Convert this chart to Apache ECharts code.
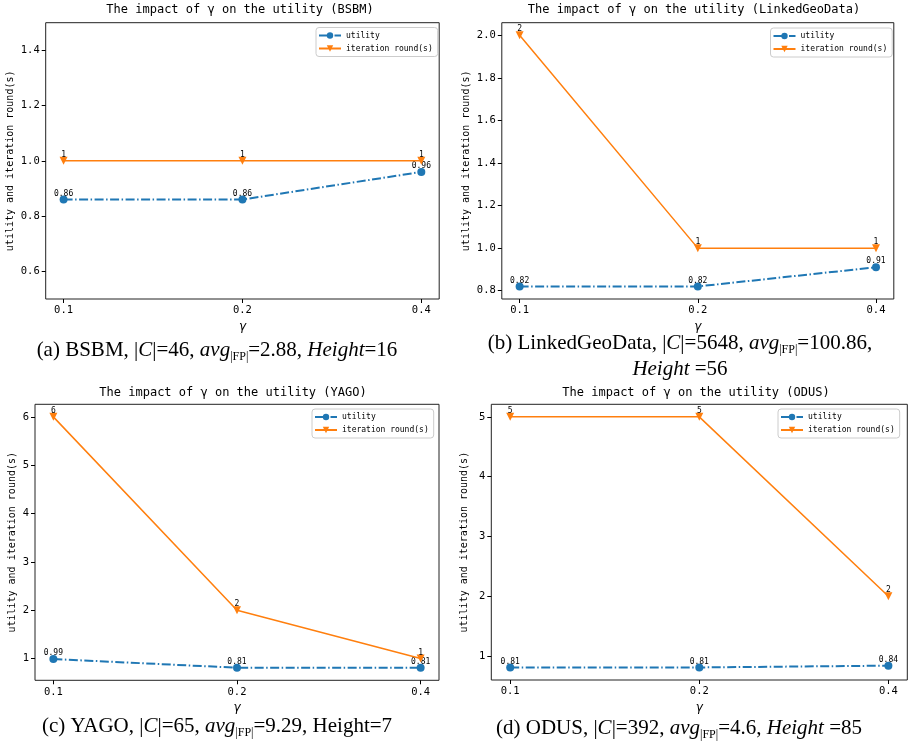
<!DOCTYPE html>
<html><head><meta charset="utf-8">
<script src="https://cdn.jsdelivr.net/npm/echarts@6/dist/echarts.min.js"></script>
<style>html,body{margin:0;padding:0;background:#fff}#c{width:908px;height:746px}</style>
</head><body><div id="c"></div><script>
// ---- data ----
const gammaLabels = ['0.1', '0.2', '0.4'];
const seriesNames = ['utility', 'iteration round(s)'];
const utilA = [0.86, 0.86, 0.96];
const iterA = [1, 1, 1];
const utilB = [0.82, 0.82, 0.91];
const iterB = [2, 1, 1];
const utilC = [0.99, 0.81, 0.81];
const iterC = [6, 2, 1];
const utilD = [0.81, 0.81, 0.84];
const iterD = [5, 5, 2];
const yTicksA = [0.6, 0.8, 1.0, 1.2, 1.4];
const yTicksB = [0.8, 1.0, 1.2, 1.4, 1.6, 1.8, 2.0];
const yTicksC = [1, 2, 3, 4, 5, 6];
const yTicksD = [1, 2, 3, 4, 5];
const titles = [
  'The impact of γ on the utility (BSBM)',
  'The impact of γ on the utility (LinkedGeoData)',
  'The impact of γ on the utility (YAGO)',
  'The impact of γ on the utility (ODUS)'
];
const yName = 'utility and iteration round(s)';
const xName = 'γ';

// ---- layout ----
const mono = 'DejaVu Sans Mono';
const panels = [
  {util: utilA, iter: iterA, ticks: yTicksA, dec: 1, min: 0.5, max: 1.5,
   grid: {left: 45.7, top: 22.7, width: 393.5, height: 276.3}, yGap: 30,
   legend: {left: 316, top: 27.5}, title: [240, 10]},
  {util: utilB, iter: iterB, ticks: yTicksB, dec: 1, min: 0.761, max: 2.059,
   grid: {left: 501.8, top: 22.7, width: 392, height: 276.3}, yGap: 30,
   legend: {left: 770.5, top: 28}, title: [694, 10]},
  {util: utilC, iter: iterC, ticks: yTicksC, dec: 0, min: 0.55, max: 6.26,
   grid: {left: 35, top: 404.3, width: 404, height: 276}, yGap: 18,
   legend: {left: 312, top: 409}, title: [233, 392.7]},
  {util: utilD, iter: iterD, ticks: yTicksD, dec: 0, min: 0.6, max: 5.21,
   grid: {left: 491.3, top: 404.3, width: 416, height: 275.7}, yGap: 22,
   legend: {left: 778, top: 409}, title: [696, 392.7]}
];

const grids = [], xAxes = [], yAxes = [], series = [], legends = [], graphics = [];
const xTicks = gammaLabels.map((_, k) => k);

panels.forEach((p, i) => {
  grids.push(Object.assign({show: true, borderColor: '#222', borderWidth: 1, backgroundColor: 'transparent'}, p.grid));
  xAxes.push({
    type: 'value', gridIndex: i, min: -0.1, max: 2.1, position: 'bottom',
    name: xName, nameLocation: 'middle', nameGap: 22,
    nameTextStyle: {fontSize: 12, fontStyle: 'italic', fontFamily: 'DejaVu Sans', color: '#000'},
    axisLine: {show: false, onZero: false}, splitLine: {show: false},
    axisTick: {show: true, length: 4, lineStyle: {color: '#000'}, customValues: xTicks},
    axisLabel: {customValues: xTicks, formatter: v => gammaLabels[Math.round(v)],
      fontSize: 10.5, fontFamily: mono, color: '#000', margin: 6}
  });
  yAxes.push({
    type: 'value', gridIndex: i, min: p.min, max: p.max, position: 'left',
    name: yName, nameLocation: 'middle', nameGap: p.yGap,
    nameTextStyle: {fontSize: 10, fontFamily: mono, color: '#000'},
    axisLine: {show: false, onZero: false}, splitLine: {show: false},
    axisTick: {show: true, length: 4, lineStyle: {color: '#000'}, customValues: p.ticks},
    axisLabel: {customValues: p.ticks, formatter: v => v.toFixed(p.dec),
      fontSize: 10.5, fontFamily: mono, color: '#000', margin: 6}
  });
  const lbl = {show: true, position: 'top', distance: -2, fontSize: 8, fontFamily: mono, color: '#000',
    formatter: q => String(q.value[1])};
  series.push({
    type: 'line', name: seriesNames[0], xAxisIndex: i, yAxisIndex: i,
    data: p.util.map((v, k) => [k, v]),
    symbol: 'circle', symbolSize: 8,
    itemStyle: {color: '#1f77b4'},
    lineStyle: {color: '#1f77b4', width: 2, type: [9, 2.5, 1.5, 2.5]},
    label: lbl, emphasis: {disabled: true}, z: 2
  });
  series.push({
    type: 'line', name: seriesNames[1], xAxisIndex: i, yAxisIndex: i,
    data: p.iter.map((v, k) => [k, v]),
    symbol: 'triangle', symbolRotate: 180, symbolSize: 8,
    itemStyle: {color: '#ff7f0e'},
    lineStyle: {color: '#ff7f0e', width: 1.5},
    label: lbl, emphasis: {disabled: true}, z: 3
  });
  legends.push({
    left: p.legend.left, top: p.legend.top, orient: 'vertical', data: seriesNames, selectedMode: false,
    itemWidth: 22, itemHeight: 8, itemGap: 5,
    textStyle: {fontSize: 8, fontFamily: mono, color: '#000'},
    backgroundColor: 'rgba(255,255,255,0.8)', borderColor: '#ccc', borderWidth: 1, borderRadius: 3,
    padding: [4, 5, 4, 2]
  });
  graphics.push({type: 'text', x: p.title[0], y: p.title[1],
    style: {text: titles[i], fontSize: 12, fontFamily: mono, fill: '#000', align: 'center', verticalAlign: 'middle'}});
});

const rich = {
  n: {fontFamily: 'Liberation Serif', fontSize: 21, lineHeight: 26, color: '#000'},
  i: {fontFamily: 'Liberation Serif', fontSize: 21, lineHeight: 26, fontStyle: 'italic', color: '#000'},
  s: {fontFamily: 'Liberation Serif', fontSize: 12, lineHeight: 12, verticalAlign: 'bottom', color: '#000'}
};
const captions = [
  [217, 350, '{n|(a) BSBM, |}{i|C}{n||=46, }{i|avg}{s||FP|}{n|=2.88, }{i|Height}{n|=16}'],
  [680, 343, '{n|(b) LinkedGeoData, |}{i|C}{n||=5648, }{i|avg}{s||FP|}{n|=100.86,}'],
  [680, 369, '{i|Height}{n| =56}'],
  [217, 726, '{n|(c) YAGO, |}{i|C}{n||=65, }{i|avg}{s||FP|}{n|=9.29, Height=7}'],
  [679, 728, '{n|(d) ODUS, |}{i|C}{n||=392, }{i|avg}{s||FP|}{n|=4.6, }{i|Height}{n| =85}']
];
captions.forEach(c => graphics.push({type: 'text', x: c[0], y: c[1],
  style: {text: c[2], rich: rich, align: 'center', verticalAlign: 'middle'}}));

const chart = echarts.init(document.getElementById('c'), null, {renderer: 'canvas'});
chart.setOption({
  animation: false,
  backgroundColor: '#fff',
  grid: grids, xAxis: xAxes, yAxis: yAxes, series: series, legend: legends,
  graphic: graphics
});
</script></body></html>
